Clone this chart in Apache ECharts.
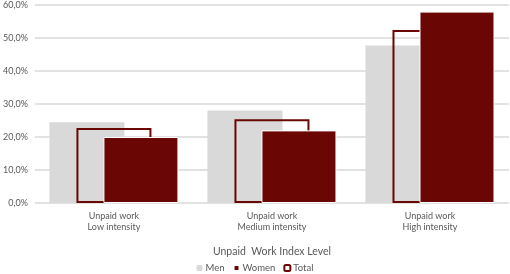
<!DOCTYPE html>
<html><head><meta charset="utf-8">
<script src="https://cdn.jsdelivr.net/npm/echarts@6/dist/echarts.min.js"></script>
<style>html,body{margin:0;padding:0;background:#fff}#c{width:510px;height:274px}</style>
</head><body><div id="c"></div>
<script>
const categories = ['Unpaid work\nLow intensity', 'Unpaid work\nMedium intensity', 'Unpaid work\nHigh intensity'];
const menValues = [24.5, 28.0, 47.7];
const womenValues = [20.0, 22.0, 58.0];
const totalValues = [22.7, 25.4, 52.4];
const yTicks = [0, 10, 20, 30, 40, 50, 60];
const axisTitle = 'Unpaid  Work Index Level';

const dark = '#6a0704';
const chart = echarts.init(document.getElementById('c'));
chart.setOption({
  animation: false,
  textStyle: { fontFamily: 'Lato, Open Sans, sans-serif' },
  grid: { left: 31, right: 1, top: 5, bottom: 71 },
  legend: {
    top: 263, left: 'center', padding: 0,
    itemWidth: 6, itemHeight: 6, itemGap: 8,
    textStyle: { fontSize: 9.5, color: '#595959', padding: [0,0,0,-2] },
    data: ['Men', 'Women', 'Total']
  },
  xAxis: {
    type: 'category', data: categories,
    name: axisTitle, nameLocation: 'middle', nameGap: 43,
    nameTextStyle: { fontSize: 10.5, color: '#595959' },
    axisLine: { show: false }, axisTick: { show: false },
    axisLabel: { fontSize: 9, color: '#595959', lineHeight: 11, margin: 8 }
  },
  yAxis: {
    type: 'value', min: yTicks[0], max: yTicks[yTicks.length - 1], interval: 10,
    axisLabel: { fontSize: 9, color: '#595959', margin: 7,
      formatter: v => v.toFixed(1).replace('.', ',') + '%' },
    splitLine: { lineStyle: { color: '#d9d9d9', width: 1.5 } },
    axisLine: { show: false }, axisTick: { show: false }
  },
  series: [
    { name: 'Men', type: 'bar', data: menValues, barWidth: 75, barGap: '-64%',
      itemStyle: { color: '#d9d9d9' } },
    { name: 'Total', type: 'bar', data: totalValues, barWidth: 75, barGap: '-64%',
      itemStyle: { color: 'rgba(255,255,255,0)', borderColor: dark, borderWidth: 2 } },
    { name: 'Women', type: 'bar', data: womenValues, barWidth: 75, barGap: '-64%',
      itemStyle: { color: dark, borderColor: '#ffffff', borderWidth: 1 } }
  ]
});
</script></body></html>
